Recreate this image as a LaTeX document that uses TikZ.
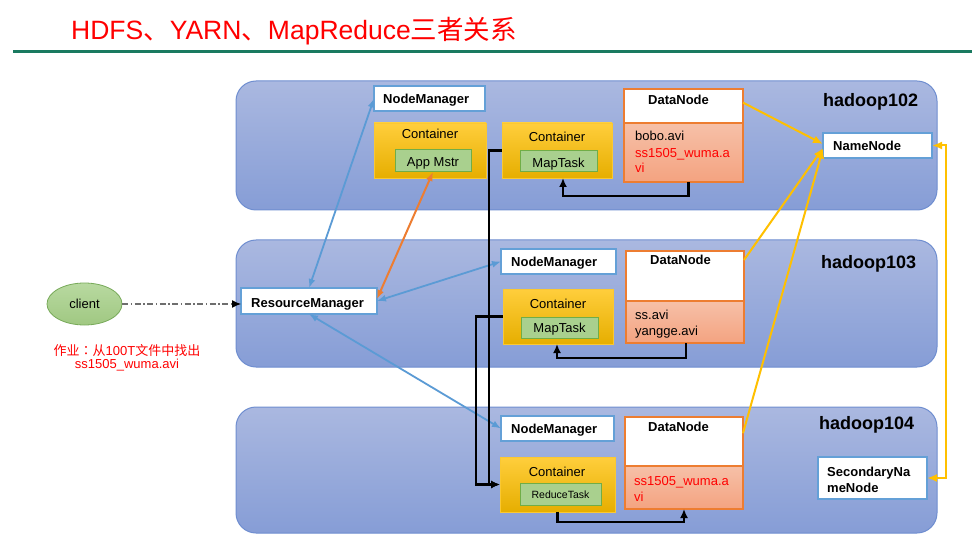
\documentclass[tikz,border=0pt]{standalone}
\usepackage{fontspec}
\setmainfont{Liberation Sans}
\newfontfamily\cjk{Noto Sans CJK SC}
\newfontfamily\cjktc{Noto Sans CJK TC}
\usetikzlibrary{arrows.meta,calc,shapes.geometric}
\newcommand\myfs[1]{\fontsize{#1}{#1}\selectfont}
\definecolor{hosttop}{RGB}{170,184,224}
\definecolor{hostbot}{RGB}{134,157,214}
\definecolor{hostborder}{RGB}{111,142,208}
\definecolor{wbborder}{RGB}{100,160,215}
\definecolor{conttop}{RGB}{255,206,60}
\definecolor{contbot}{RGB}{230,174,0}
\definecolor{contborder}{RGB}{250,200,50}
\definecolor{taskfill}{RGB}{169,208,142}
\definecolor{taskborder}{RGB}{112,173,71}
\definecolor{dnborder}{RGB}{237,125,49}
\definecolor{dntop}{RGB}{246,192,168}
\definecolor{dnbot}{RGB}{244,163,128}
\definecolor{cltop}{RGB}{184,217,160}
\definecolor{clbot}{RGB}{160,200,130}
\definecolor{clborder}{RGB}{120,170,90}
\definecolor{bluearrow}{RGB}{91,155,213}
\definecolor{orangearrow}{RGB}{237,125,49}
\definecolor{yellowarrow}{RGB}{255,192,0}
\definecolor{titleline}{RGB}{26,122,96}
\definecolor{dashgray}{RGB}{110,110,110}
\definecolor{redtext}{RGB}{255,0,0}
\tikzset{
  box/.style={anchor=north west, inner sep=0, outer sep=0},
  host/.style={box, draw=hostborder, line width=1pt, rounded corners=20pt, top color=hosttop, bottom color=hostbot},
  wb/.style={box, draw=wbborder, line width=1.4pt, fill=white},
  cont/.style={box, draw=contborder, line width=0.8pt, top color=conttop, bottom color=contbot},
  task/.style={box, draw=taskborder, line width=1pt, fill=taskfill},
  dnt/.style={box, draw=dnborder, line width=1.4pt, fill=white},
  dnb/.style={box, draw=dnborder, line width=1.4pt, top color=dntop, bottom color=dnbot},
  lbl/.style={inner sep=0, anchor=base west, font=\myfs{13}},
  clbl/.style={inner sep=0, anchor=base, font=\myfs{13}},
  bl/.style={inner sep=0, anchor=base west, font=\bfseries\myfs{13}},
  hl/.style={inner sep=0, anchor=base west, font=\bfseries\myfs{18}},
  bluearr/.style={draw=bluearrow, line width=1.8pt, {Latex[length=9pt,width=7pt]}-{Latex[length=9pt,width=7pt]}},
  orgarr/.style={draw=orangearrow, line width=2pt, {Latex[length=9pt,width=7pt]}-{Latex[length=9pt,width=7pt]}},
  yelarr/.style={draw=yellowarrow, line width=2pt, -{Latex[length=10pt,width=8pt]}},
  yelarrb/.style={draw=yellowarrow, line width=2pt, {Latex[length=10pt,width=8pt]}-{Latex[length=10pt,width=8pt]}},
  blk/.style={draw=black, line width=2.2pt, -{Latex[length=9pt,width=8pt]}},
}
\begin{document}
\begin{tikzpicture}[x=1pt,y=-1pt]
\useasboundingbox (0,0) rectangle (972,548);
\fill[white] (0,0) rectangle (972,548);

% title
\node[inner sep=0, anchor=base west, text=redtext, font=\myfs{26.5}] (title) at (71,39.5)
  {HDFS{\cjk 、}YARN{\cjk 、}MapReduce{\cjk 三者关系}};
\draw[titleline, line width=3pt] (13,52) -- (972,52);

% hosts
\node[host, minimum width=701, minimum height=129] (h2) at (236,81) {};
\node[host, minimum width=701, minimum height=127] (h3) at (236,240) {};
\node[host, minimum width=701, minimum height=126] (h4) at (236,407) {};
\node[hl] (h2l) at (823,107) {hadoop102};
\node[hl] (h3l) at (821,269) {hadoop103};
\node[hl] (h4l) at (819,429.5) {hadoop104};

% node managers
\node[wb, minimum width=111, minimum height=25] (nm2) at (374,86) {};
\node[bl] (nm2l) at (383,104) {NodeManager};
\node[wb, minimum width=115, minimum height=25] (nm3) at (501,249) {};
\node[bl] (nm3l) at (511,266.7) {NodeManager};
\node[wb, minimum width=113, minimum height=25] (nm4) at (501,416) {};
\node[bl] (nm4l) at (511,433.3) {NodeManager};

% containers
\node[cont, minimum width=112, minimum height=55] (c2a) at (374,123) {};
\node[clbl] (c2al) at (430,138.3) {Container};
\node[task, minimum width=76, minimum height=22] (app) at (395,150) {};
\node[clbl] (appl) at (433,166.5) {App Mstr};

\node[cont, minimum width=110, minimum height=55] (c2b) at (502,123) {};
\node[clbl] (c2bl) at (557,141.7) {Container};
\node[task, minimum width=77, minimum height=21] (mt2) at (520,151) {};
\node[clbl] (mt2l) at (558.5,167.3) {MapTask};

\node[cont, minimum width=110, minimum height=55] (c3) at (503,289) {};
\node[clbl] (c3l) at (558,308.3) {Container};
\node[task, minimum width=77, minimum height=21] (mt3) at (521,317) {};
\node[clbl] (mt3l) at (559.5,332.3) {MapTask};

\node[cont, minimum width=115, minimum height=55] (c4) at (500,457) {};
\node[clbl] (c4l) at (557,476) {Container};
\node[task, minimum width=81, minimum height=22] (rt4) at (520,483) {};
\node[clbl, font=\myfs{10.5}] (rt4l) at (560.5,498.3) {ReduceTask};

% data nodes
\node[dnt, minimum width=119, minimum height=34] (dn2t) at (624,89) {};
\node[dnb, minimum width=119, minimum height=59] (dn2b) at (624,123) {};
\node[bl] (dn2l) at (648,104.3) {DataNode};
\node[lbl] (dn2a) at (635,140.7) {bobo.avi};
\node[lbl, text=redtext] (dn2c) at (635,157.3) {ss1505\_wuma.a};
\node[lbl, text=redtext] (dn2d) at (635,172.3) {vi};

\node[dnt, minimum width=118, minimum height=50] (dn3t) at (626,251) {};
\node[dnb, minimum width=118, minimum height=42] (dn3b) at (626,301) {};
\node[bl] (dn3l) at (650,265) {DataNode};
\node[lbl] (dn3a) at (635,319) {ss.avi};
\node[lbl] (dn3c) at (635,335) {yangge.avi};

\node[dnt, minimum width=118, minimum height=49] (dn4t) at (625,417) {};
\node[dnb, minimum width=118, minimum height=43] (dn4b) at (625,466) {};
\node[bl] (dn4l) at (648,431.7) {DataNode};
\node[lbl, text=redtext] (dn4a) at (634,485.7) {ss1505\_wuma.a};
\node[lbl, text=redtext] (dn4c) at (634,501) {vi};

% name nodes
\node[wb, minimum width=109, minimum height=25] (nn) at (823,133) {};
\node[bl] (nnl) at (833,151) {NameNode};
\node[wb, minimum width=109, minimum height=42] (snn) at (818,457) {};
\node[bl] (snnl1) at (827,476.5) {SecondaryNa};
\node[bl] (snnl2) at (827,492) {meNode};

% resource manager & client
\node[wb, minimum width=136, minimum height=26] (rm) at (241,288) {};
\node[bl] (rml) at (251,307.3) {ResourceManager};
\node[ellipse, draw=clborder, line width=0.8pt, top color=cltop, bottom color=clbot,
      minimum width=75, minimum height=42, inner sep=0, font=\myfs{13}] (client) at (84.5,304) {client};
\node[clbl, text=redtext] (note1) at (127,355) {{\cjk 作业}{\cjktc ：}{\cjk 从}100T{\cjk 文件中找出}};
\node[clbl, text=redtext] (note2) at (127,368.3) {ss1505\_wuma.avi};

% connectors
\draw[draw=dashgray, line width=1.2pt, dash pattern=on 6pt off 2.5pt on 1.5pt off 2.5pt,
      -{Latex[length=9pt,width=8pt,fill=black,color=black]}] (client.east) -- (client.east -| rm.west);
\draw[bluearr] (rm.north) -- (nm2.west);
\draw[bluearr] (rm.east) -- (nm3.west);
\draw[bluearr] (rm.south) -- (nm4.west);
\draw[orgarr] ([yshift=2pt]rm.east) -- (app.south);

\draw[yelarr] ($(dn2t.north east)!0.4!(dn2t.south east)$) -- ([yshift=1.5pt]nn.west);
\draw[yelarr] ($(dn3t.north east)!0.18!(dn3t.south east)$) -- ([yshift=-2.5pt]nn.west);
\draw[yelarr] ($(dn4t.north east)!0.33!(dn4t.south east)$) -- ([yshift=-3pt]nn.west);
\draw[yelarrb] (nn.east) -- ++(14,0) |- (snn.east);

\draw[blk] ([xshift=5pt]dn2b.south) -- ++(0,14) -| ([xshift=6pt]c2b.south);
\draw[blk] ([xshift=1pt]dn3b.south) -- ++(0,15) -| ([xshift=-1pt]c3.south);
\draw[blk] (c4.south) -- ++(0,10) -| (dn4b.south);
\draw[blk] (c2b.west) -- ++(-13,0) |- (c4.west);
\draw[blk] (c3.west) -- ++(-27,0) |- (c4.west);
\end{tikzpicture}
\end{document}
